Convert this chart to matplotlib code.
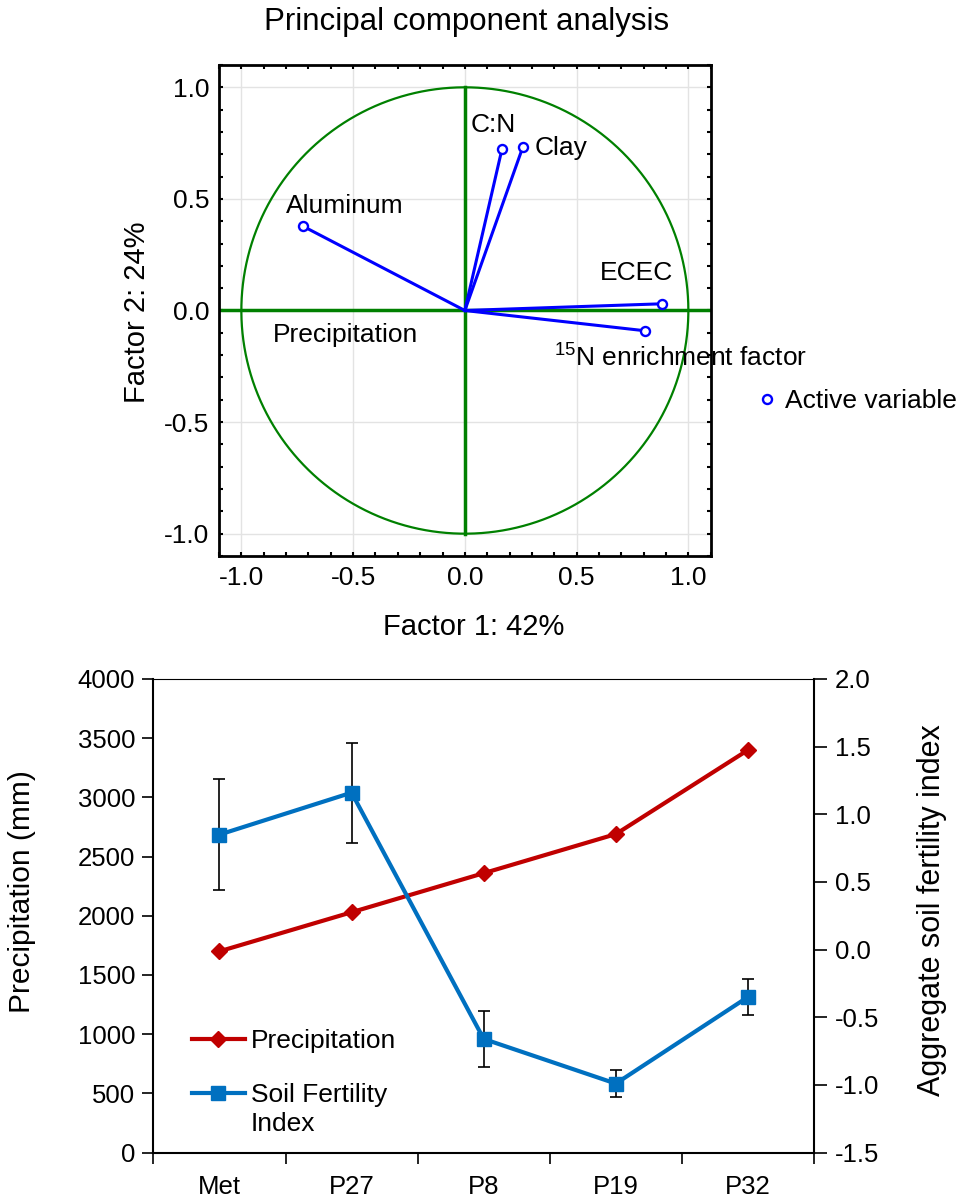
import numpy as np
import matplotlib
matplotlib.use('Agg')
import matplotlib.pyplot as plt
from matplotlib.ticker import MultipleLocator, FormatStrFormatter

plt.rcParams['font.family'] = ['Liberation Sans', 'DejaVu Sans']
plt.rcParams['mathtext.fontset'] = 'custom'
plt.rcParams['mathtext.rm'] = 'Liberation Sans'
plt.rcParams['mathtext.it'] = 'Liberation Sans:italic'

# --- PCA loadings (factor 1 / factor 2) ---
pca_vars = ['Aluminum', 'C:N', 'Clay', 'ECEC', '$^{15}$N enrichment factor']
factor1 = [-0.725, 0.166, 0.26, 0.88, 0.808]
factor2 = [0.378, 0.723, 0.734, 0.03, -0.091]

# --- site series ---
sites = ['Met', 'P27', 'P8', 'P19', 'P32']
precip = [1700, 2030, 2360, 2690, 3400]
sfi = [0.85, 1.16, -0.66, -0.99, -0.35]
sfi_err = [0.41, 0.37, 0.21, 0.10, 0.13]

W, H = 960, 1198
fig = plt.figure(figsize=(W / 100, H / 100), dpi=100)

green = '#008000'
blue = '#0000FF'

# ---------------- top: PCA circle ----------------
ax = fig.add_axes([219 / W, 1 - 556 / H, (710.7 - 219) / W, (556 - 65) / H])
ax.set_xlim(-1.1, 1.1)
ax.set_ylim(-1.1, 1.1)

ax.set_xticks([-1.0, -0.5, 0.0, 0.5, 1.0])
ax.set_yticks([-1.0, -0.5, 0.0, 0.5, 1.0])
ax.xaxis.set_major_formatter(FormatStrFormatter('%.1f'))
ax.yaxis.set_major_formatter(FormatStrFormatter('%.1f'))
ax.xaxis.set_minor_locator(MultipleLocator(0.1))
ax.yaxis.set_minor_locator(MultipleLocator(0.1))
ax.tick_params(which='both', direction='in', length=3, width=1.5,
               top=True, right=True, labelsize=19, pad=7)
ax.grid(True, color='#e3e3e3', lw=1, zorder=0)
for s in ax.spines.values():
    s.set_linewidth(2)

theta = np.linspace(0, 2 * np.pi, 400)
ax.plot(np.cos(theta), np.sin(theta), color=green, lw=1.6, zorder=2)
ax.axhline(0, color=green, lw=2.5, zorder=2)
ax.plot([0, 0], [-1, 1], color=green, lw=2.5, zorder=2)

for fx, fy in zip(factor1, factor2):
    ax.plot([0, fx], [0, fy], color=blue, lw=2.2, zorder=3)
ax.plot(factor1, factor2, 'o', ms=6.5, mfc='white', mec=blue, mew=1.7,
        zorder=4, label='Active variable')

label_pos = {
    'Aluminum': (-0.80, 0.468),
    'C:N': (0.028, 0.83),
    'Clay': (0.312, 0.728),
    'ECEC': (0.602, 0.166),
    '$^{15}$N enrichment factor': (0.40, -0.215),
}
for name in pca_vars:
    lx, ly = label_pos[name]
    ax.text(lx, ly, name, fontsize=19, ha='left', va='center', zorder=5,
            clip_on=False)
ax.text(-0.86, -0.11, 'Precipitation', fontsize=19, ha='left', va='center')

ax.legend(loc='center left', bbox_to_anchor=(1.101, 0.3157), frameon=False,
          borderpad=0, borderaxespad=0, handlelength=0.5, handletextpad=0.45,
          fontsize=19, numpoints=1)

ax.set_xlabel('Factor 1: 42%', fontsize=21)
ax.xaxis.set_label_coords(0.517, -0.1446)
ax.xaxis.label.set_va('center')
ax.set_ylabel('Factor 2: 24%', fontsize=21)
ax.yaxis.set_label_coords(-0.1668, 0.497)
ax.yaxis.label.set_va('center')

fig.text(467 / W, 1 - 22 / H, 'Principal component analysis', fontsize=22.5,
         ha='center', va='center')

# ---------------- bottom: precipitation & soil fertility ----------------
red = '#C00000'
sblue = '#0070C0'
x = np.arange(len(sites))

ax2 = fig.add_axes([153.4 / W, 1 - 1152.6 / H, (814 - 153.4) / W, (1152.6 - 679) / H])
p_line, = ax2.plot(x, precip, color=red, lw=3, marker='D', ms=8.5,
                   label='Precipitation', zorder=3)
ax2.set_xlim(-0.5, len(sites) - 0.5)
ax2.set_ylim(0, 4000)
ax2.set_yticks(np.arange(0, 4001, 500))
ax2.set_xticks(np.arange(-0.5, len(sites), 1.0))
ax2.set_xticklabels([])
ax2.set_xticks(x, minor=True)
ax2.set_xticklabels(sites, minor=True)
ax2.tick_params(axis='x', which='major', direction='out', length=8, width=1.2)
ax2.tick_params(axis='x', which='minor', length=0, pad=16, labelsize=18.5)
ax2.tick_params(axis='y', direction='out', length=8, width=1.2, labelsize=18.5, pad=5)
ax2.spines['left'].set_linewidth(1.5)
ax2.spines['bottom'].set_linewidth(1.5)
ax2.spines['top'].set_linewidth(0.8)
ax2.spines['right'].set_visible(False)
ax2.set_ylabel('Precipitation (mm)', fontsize=21.5)
ax2.yaxis.set_label_coords(-0.199, 0.552)
ax2.yaxis.label.set_va('center')

ax3 = ax2.twinx()
eb = ax3.errorbar(x, sfi, yerr=sfi_err, color=sblue, lw=3, marker='s', ms=10,
                  ecolor='black', elinewidth=1.2, capsize=4.5, capthick=1.2,
                  label='Soil Fertility', zorder=3)
ax3.set_ylim(-1.5, 2.0)
ax3.set_yticks(np.arange(-1.5, 2.01, 0.5))
ax3.yaxis.set_major_formatter(FormatStrFormatter('%.1f'))
ax3.tick_params(axis='y', direction='out', length=9, width=1.2, labelsize=18.5, pad=6)
for side in ['left', 'top', 'bottom']:
    ax3.spines[side].set_visible(False)
ax3.spines['right'].set_linewidth(1.5)
ax3.set_ylabel('Aggregate soil fertility index', fontsize=22, rotation=90)
ax3.yaxis.set_label_coords(1.1786, 0.512)
ax3.yaxis.label.set_va('center')

ax3.legend(handles=[p_line, eb[0]], labels=['Precipitation', 'Soil Fertility'],
           loc='upper left', bbox_to_anchor=(0.0584, 0.2615), frameon=False,
           borderpad=0, borderaxespad=0, handlelength=2.0, handletextpad=0.25,
           labelspacing=1.15, fontsize=19, numpoints=1)
ax3.text(0.1477, 0.0604, 'Index', transform=ax3.transAxes, fontsize=19,
         ha='left', va='center')

fig.savefig('out.png', dpi=100)
